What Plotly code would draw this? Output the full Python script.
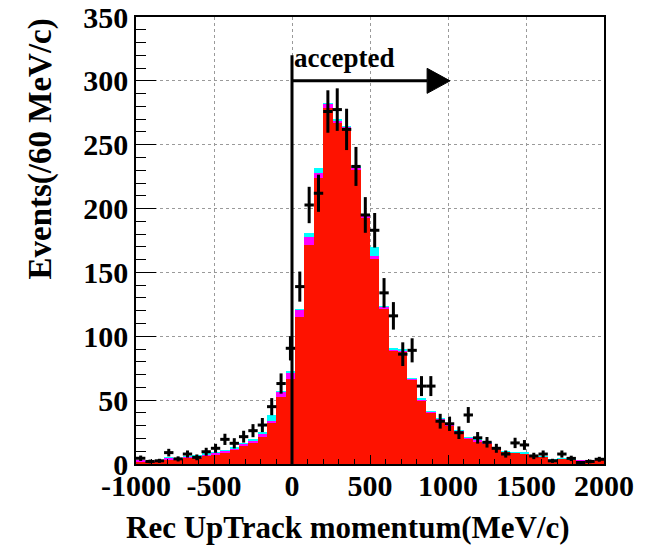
import numpy as np
import plotly.graph_objects as go

# Binning: 60 MeV/c bins from -1000 to 2000 MeV/c
BIN_LO, BIN_HI, BIN_W = -1000, 2000, 60

# Simulated components (stacked), events per bin
mc_red = [2.3, 1.6, 2.6, 3.6, 3.5, 4.7, 5.2, 6.3, 7.0, 8.9,
          11.0, 14.4, 16.7, 21.4, 31.8, 52.7, 66.5, 114.8, 171.5, 224.0,
          278.5, 266.7, 262.7, 230.0, 193.0, 161.0, 121.0, 89.0, 88.0, 65.8,
          50.0, 40.0, 34.5, 30.5, 25.3, 20.0, 18.0, 16.0, 12.3, 9.5,
          8.7, 8.2, 6.1, 5.5, 3.6, 4.2, 3.4, 2.2, 2.5, 3.7]
mc_magenta = [0.7, 0.4, 0.4, 1.2, 1.0, 0.8, 0.8, 1.5, 2.0, 1.6,
              1.5, 1.6, 1.8, 2.6, 1.7, 3.9, 5.5, 5.8, 6.0, 4.0,
              3.5, 2.5, 1.5, 2.5, 2.0, 1.5, 2.0, 1.0, 1.0, 1.0,
              0.8, 0.8, 0.8, 0.6, 0.6, 0.6, 0.8, 0.5, 0.4, 0.4,
              0.4, 0.4, 0.3, 0.3, 0.2, 0.3, 0.2, 0.2, 0.2, 0.2]
mc_cyan = [0.0, 0.0, 0.0, 0.2, 0.2, 0.2, 0.3, 0.2, 0.3, 0.3,
           0.3, 0.3, 0.4, 0.5, 4.5, 0.5, 0.5, 0.6, 3.5, 3.5,
           0.5, 0.5, 0.3, 0.5, 0.3, 7.5, 0.3, 0.3, 0.3, 0.2,
           0.2, 0.2, 0.2, 0.2, 0.2, 0.2, 0.2, 0.2, 0.2, 0.1,
           0.1, 0.1, 0.1, 0.1, 0.1, 0.1, 0.1, 0.0, 0.0, 0.0]

# Observed events per bin
data_counts = [4.5, 2.0, 2.5, 8.9, 4.0, 7.8, 5.2, 9.6, 12.3, 19.3,
               16.2, 21.4, 26.1, 30.5, 44.9, 63.0, 90.6, 138.9, 202.8, 212.0,
               276.0, 277.5, 262.0, 233.0, 195.0, 183.0, 134.0, 116.0, 86.0, 89.0,
               61.0, 61.0, 33.5, 31.5, 24.5, 38.4, 20.5, 17.0, 12.3, 7.8,
               16.5, 14.9, 6.3, 7.8, 2.5, 7.8, 4.4, 1.2, 2.0, 3.7]

# Acceptance cut annotation
CUT_VALUE = 0
CUT_LINE_TOP = 320
ARROW_Y = 300
ARROW_TIP = 1013
HEAD_LEN = 147
HEAD_HALF = 9.8

x_ticks = [-1000, -500, 0, 500, 1000, 1500, 2000]
y_ticks = [0, 50, 100, 150, 200, 250, 300, 350]

centers = np.arange(BIN_LO, BIN_HI, BIN_W) + BIN_W / 2
serif = "Liberation Serif"

fig = go.Figure()
for vals, col in [(mc_red, "#fe1200"), (mc_magenta, "#ff00ff"), (mc_cyan, "#00ffff")]:
    fig.add_trace(go.Bar(
        x=centers, y=vals, width=BIN_W,
        marker=dict(color=col, line=dict(width=0)),
        showlegend=False, hoverinfo="skip",
    ))

data_arr = np.array(data_counts)
fig.add_trace(go.Scatter(
    x=centers, y=data_arr, mode="markers",
    marker=dict(size=3, color="black"),
    error_x=dict(type="constant", value=BIN_W / 2, thickness=3, width=0, color="black"),
    error_y=dict(type="data", array=np.sqrt(data_arr), thickness=3, width=0, color="black"),
    showlegend=False,
))

# cut line and "accepted" arrow
fig.add_shape(type="line", x0=CUT_VALUE, x1=CUT_VALUE, y0=0, y1=CUT_LINE_TOP,
              xref="x", yref="y", line=dict(color="black", width=3), layer="above")
fig.add_shape(type="line", x0=CUT_VALUE, x1=ARROW_TIP - HEAD_LEN, y0=ARROW_Y, y1=ARROW_Y,
              xref="x", yref="y", line=dict(color="black", width=3), layer="above")
fig.add_shape(type="path",
              path=(f"M {ARROW_TIP - HEAD_LEN},{ARROW_Y + HEAD_HALF} L {ARROW_TIP},{ARROW_Y} "
                    f"L {ARROW_TIP - HEAD_LEN},{ARROW_Y - HEAD_HALF} Z"),
              xref="x", yref="y", fillcolor="black", line=dict(color="black", width=1), layer="above")
fig.add_annotation(x=CUT_VALUE, y=318, xref="x", yref="y", text="accepted",
                   showarrow=False, xanchor="left", yanchor="middle", xshift=0,
                   font=dict(family=serif, size=27, color="black", weight="bold"))

# axis titles
fig.add_annotation(x=(40 - 136) / 468, y=1.0, xref="paper", yref="paper",
                   text="Events(/60 MeV/c)", textangle=-90, showarrow=False,
                   xanchor="center", yanchor="top",
                   font=dict(family=serif, size=33, color="black", weight="bold"))
fig.add_annotation(x=(348 - 136) / 468, y=(464 - 527) / 447, xref="paper", yref="paper",
                   text="Rec UpTrack momentum(MeV/c)", showarrow=False,
                   xanchor="center", yanchor="middle",
                   font=dict(family=serif, size=31, color="black", weight="bold"))

axis_common = dict(
    showline=True, mirror=True, linecolor="black", linewidth=1.5,
    showgrid=True, gridcolor="#9a9a9a", gridwidth=1, griddash="dot",
    ticks="inside", tickcolor="black", zeroline=False, automargin=False,
    tickfont=dict(family=serif, size=30, color="black", weight="bold"),
)

fig.update_xaxes(range=[BIN_LO, BIN_HI], tickvals=x_ticks,
                 ticktext=[str(v) for v in x_ticks], ticklen=9, tickwidth=1.2,
                 ticklabelstandoff=-6,
                 minor=dict(dtick=100, ticklen=5, tickcolor="black", ticks="inside", showgrid=False),
                 **axis_common)
fig.update_yaxes(range=[0, 350], tickvals=y_ticks,
                 ticktext=[str(v) for v in y_ticks], ticklen=20, tickwidth=1.2,
                 ticklabelstandoff=0,
                 minor=dict(dtick=10, ticklen=10, tickcolor="black", ticks="inside", showgrid=False),
                 **axis_common)

fig.update_layout(
    width=655, height=546,
    margin=dict(l=136, r=51, t=17, b=82, autoexpand=False),
    barmode="stack", bargap=0,
    paper_bgcolor="white", plot_bgcolor="white",
    showlegend=False,
)

fig.write_html("out.html")
